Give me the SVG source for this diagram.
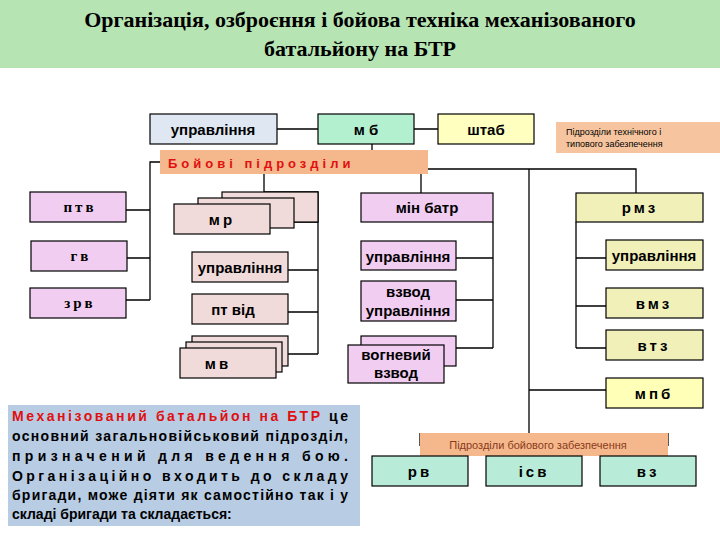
<svg xmlns="http://www.w3.org/2000/svg" width="720" height="540" viewBox="0 0 720 540">
<style>
.b{stroke:#000;stroke-width:1.2}
.ln{stroke:#000;stroke-width:1.3;fill:none}
.t{font-family:"Liberation Sans",Arial,sans-serif;font-size:15px;font-weight:bold;text-anchor:middle;fill:#000}
.s{font-family:"Liberation Serif",serif;font-size:15px;font-weight:bold;text-anchor:middle;letter-spacing:3px}
.pk{fill:#f2cdf2}.rs{fill:#f0dada}.yl{fill:#f0f0b8}.yy{fill:#ffffb8}.tl{fill:#b8ecd8}
.p{font-family:"Liberation Sans",Arial,sans-serif;font-size:14px;font-weight:bold;fill:#000}
</style>
<rect width="720" height="540" fill="#fff"/>
<rect x="0" y="0" width="720" height="68" fill="#b7e4b3"/>
<text x="360" y="27" font-family="Liberation Serif,serif" font-size="22" font-weight="bold" text-anchor="middle">Організація, озброєння і бойова техніка механізованого</text>
<text x="360" y="56" font-family="Liberation Serif,serif" font-size="22" font-weight="bold" text-anchor="middle">батальйону на БТР</text>
<g id="connectors">
<path class="ln" d="M277 129H318M414 129H438M372 144V150M160 162H150V300M126 210H150M127 258H150M126 300H150M264 174V192H318V354M294 222H318M288 270H318M288 312H318M276 354H318M428 169H636V193M421 169V193M529 169V433M493 222V348M456 258H493M456 300H493M445 348H493M576 222V348M576 258H606M576 306H606M576 348H606M529 390H606M420 433V446M668 433V446"/>
</g>
<g id="upr"><rect class="b" x="150" y="114" width="127" height="30" fill="#dfe8f2"/><text class="t" x="213" y="135">управління</text></g>
<g id="mb"><rect class="b" x="318" y="114" width="96" height="30" fill="#b3f0cf"/><text class="t" x="366" y="135">м б</text></g>
<g id="shtab"><rect class="b" x="438" y="114" width="96" height="30" fill="#ffffc0"/><text class="t" x="486" y="135">штаб</text></g>
<g id="tech"><rect x="556" y="122" width="164" height="31" fill="#f6c59f"/><text x="566" y="135" font-family="Liberation Sans,sans-serif" font-size="9">Підрозділи технічного і</text><text x="566" y="147" font-family="Liberation Sans,sans-serif" font-size="9">типового забезпечення</text></g>
<g id="boiovi"><rect x="160" y="150" width="268" height="24" fill="#f5b88c"/><text x="168" y="168" font-family="Liberation Sans,sans-serif" font-size="13" font-weight="bold" fill="#e01010" letter-spacing="4">Бойові підрозділи</text></g>
<g id="ptv"><rect class="b pk" x="30" y="192" width="96" height="30"/><text class="s" x="80" y="212">птв</text></g>
<g id="gv"><rect class="b pk" x="31" y="241" width="96" height="30"/><text class="s" x="81" y="261">гв</text></g>
<g id="zrv"><rect class="b pk" x="30" y="288" width="96" height="30"/><text class="s" x="80" y="308">зрв</text></g>
<g id="mr"><rect class="b rs" x="222" y="192" width="96" height="30"/><rect class="b rs" x="198" y="198" width="96" height="30"/><rect class="b rs" x="174" y="204" width="96" height="30"/><text class="t" x="222" y="225" letter-spacing="3">мр</text></g>
<g id="mr-upr"><rect class="b rs" x="192" y="252" width="96" height="30"/><text class="t" x="240" y="273">управління</text></g>
<g id="ptvid"><rect class="b rs" x="192" y="294" width="96" height="30"/><text class="t" x="233" y="315">пт від</text></g>
<g id="mv"><rect class="b rs" x="192" y="336" width="96" height="30"/><rect class="b rs" x="186" y="342" width="96" height="30"/><rect class="b rs" x="180" y="348" width="96" height="30"/><text class="t" x="218" y="369" letter-spacing="3">мв</text></g>
<g id="minbatr"><rect class="b pk" x="361" y="193" width="132" height="29"/><text class="t" x="427" y="213">мін батр</text></g>
<g id="mb-upr"><rect class="b pk" x="361" y="241" width="95" height="29"/><text class="t" x="408" y="262">управління</text></g>
<g id="vzv-upr"><rect class="b pk" x="361" y="281" width="95" height="40"/><text class="t" x="408" y="297">взвод</text><text class="t" x="408" y="316">управління</text></g>
<g id="vogn"><rect class="b pk" x="361" y="336" width="95" height="30"/><rect class="b pk" x="348" y="345" width="96" height="38"/><text class="t" x="396" y="360">вогневий</text><text class="t" x="396" y="378">взвод</text></g>
<g id="rmz"><rect class="b yl" x="576" y="193" width="127" height="29"/><text class="t" x="640" y="213" letter-spacing="3">рмз</text></g>
<g id="rmz-upr"><rect class="b yl" x="606" y="240" width="97" height="30"/><text class="t" x="654" y="261">управління</text></g>
<g id="vmz"><rect class="b yl" x="606" y="288" width="97" height="30"/><text class="t" x="654" y="309" letter-spacing="3">вмз</text></g>
<g id="vtz"><rect class="b yl" x="606" y="330" width="97" height="30"/><text class="t" x="654" y="351" letter-spacing="3">втз</text></g>
<g id="mpb"><rect class="b yy" x="606" y="378" width="97" height="30"/><text class="t" x="654" y="399" letter-spacing="3">мпб</text></g>
<g id="boiz"><rect x="420" y="433" width="248" height="23" fill="#f5b88c"/><text x="538" y="449" font-family="Liberation Sans,sans-serif" font-size="11" text-anchor="middle" fill="#8a3a1a">Підрозділи бойового забезпечення</text></g>
<g id="rv"><rect class="b tl" x="372" y="456" width="96" height="30"/><text class="t" x="420" y="477" letter-spacing="3">рв</text></g>
<g id="isv"><rect class="b tl" x="486" y="456" width="96" height="30"/><text class="t" x="534" y="477" letter-spacing="3">ісв</text></g>
<g id="vz"><rect class="b tl" x="600" y="456" width="96" height="30"/><text class="t" x="648" y="477" letter-spacing="3">вз</text></g>
<g id="desc"><rect x="8" y="405" width="352" height="121" fill="#b8cce4"/>
<text class="p" x="12" y="421" textLength="336" lengthAdjust="spacing"><tspan fill="#e01010">Механізований батальйон на БТР</tspan> це</text>
<text class="p" x="12" y="441" textLength="336" lengthAdjust="spacing">основний загальновійськовий підрозділ,</text>
<text class="p" x="12" y="461" textLength="336" lengthAdjust="spacing">призначений для ведення бою.</text>
<text class="p" x="12" y="481" textLength="336" lengthAdjust="spacing">Організаційно входить до складу</text>
<text class="p" x="12" y="500" textLength="336" lengthAdjust="spacing">бригади, може діяти як самостійно так і у</text>
<text class="p" x="12" y="519">складі бригади та складається:</text>
</g>
</svg>
